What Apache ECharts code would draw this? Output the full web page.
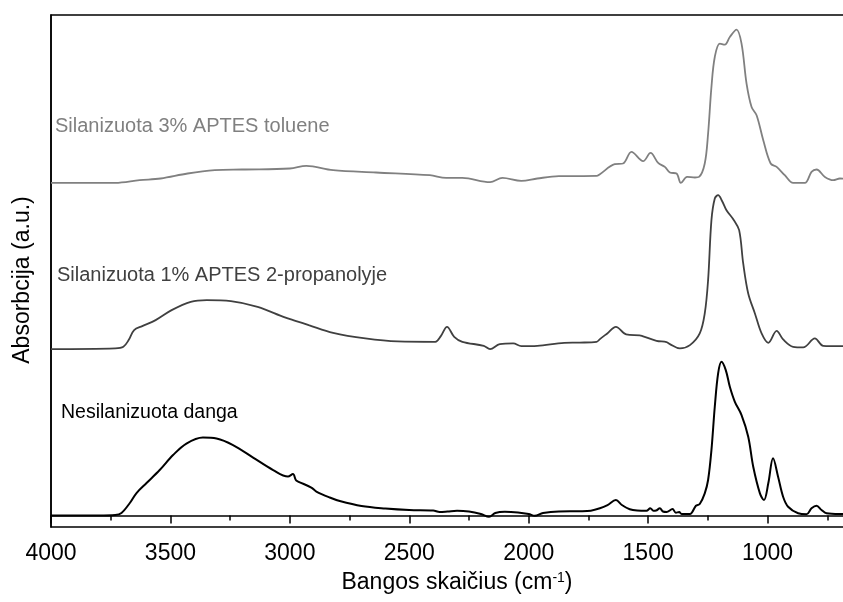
<!DOCTYPE html>
<html>
<head>
<meta charset="utf-8">
<title>FTIR spektrai</title>
<script src="https://cdn.jsdelivr.net/npm/echarts@6/dist/echarts.min.js"></script>
<style>
  html, body { margin: 0; padding: 0; background: #fff; }
  #chart { width: 843px; height: 602px; }
</style>
</head>
<body>
<div id="chart"></div>
<script>
// Wavenumbers (cm-1) and absorbance (a.u., relative to each spectrum's own baseline)
const wnBare = [4000, 3800, 3731, 3705, 3670, 3642, 3600, 3545, 3489, 3433, 3364, 3307, 3238, 3154, 3070, 3008, 2987, 2975, 2966, 2910, 2889, 2833, 2791, 2700, 2600, 2500, 2400, 2373, 2340, 2300, 2250, 2200, 2166, 2140, 2100, 2045, 2000, 1975, 1940, 1874, 1786, 1740, 1702, 1670, 1635, 1610, 1577, 1546, 1507, 1491, 1478, 1467, 1451, 1438, 1423, 1398, 1384, 1370, 1360, 1325, 1300, 1284, 1263, 1249, 1235, 1221, 1207, 1193, 1175, 1158, 1137, 1109, 1081, 1060, 1032, 1015, 997, 977, 956, 935, 914, 872, 837, 816, 795, 774, 753, 700, 600];
const absBare = [0, 0, 0.005, 0.025, 0.125, 0.225, 0.325, 0.455, 0.605, 0.72, 0.78, 0.77, 0.705, 0.58, 0.455, 0.39, 0.415, 0.355, 0.34, 0.28, 0.24, 0.18, 0.145, 0.095, 0.07, 0.055, 0.05, 0.035, 0.04, 0.048, 0.04, 0.015, -0.013, 0.025, 0.038, 0.031, 0.015, -0.003, 0.025, 0.041, 0.043, 0.048, 0.072, 0.105, 0.155, 0.105, 0.062, 0.05, 0.048, 0.072, 0.048, 0.05, 0.072, 0.04, 0.035, 0.065, 0.028, 0.035, 0.015, 0.015, 0.098, 0.115, 0.222, 0.355, 0.655, 1.088, 1.422, 1.538, 1.455, 1.288, 1.138, 1.005, 0.788, 0.488, 0.222, 0.155, 0.322, 0.572, 0.388, 0.188, 0.088, 0.022, 0.012, 0.072, 0.098, 0.055, 0.022, 0.015, 0.015];

const wnIpa = [4000, 3731, 3697, 3675, 3652, 3618, 3562, 3495, 3415, 3348, 3247, 3135, 3021, 2977, 2921, 2819, 2684, 2549, 2391, 2368, 2342, 2312, 2278, 2188, 2162, 2121, 2065, 2031, 1964, 1851, 1786, 1716, 1702, 1671, 1635, 1592, 1535, 1524, 1465, 1423, 1409, 1367, 1325, 1284, 1263, 1249, 1235, 1221, 1207, 1190, 1172, 1141, 1119, 1102, 1081, 1053, 1025, 997, 962, 935, 893, 851, 802, 767, 700, 600];
const absIpa = [0, 0.007, 0.023, 0.09, 0.19, 0.23, 0.29, 0.39, 0.473, 0.49, 0.48, 0.423, 0.317, 0.283, 0.24, 0.163, 0.107, 0.077, 0.073, 0.13, 0.223, 0.123, 0.073, 0.033, 0, 0.05, 0.057, 0.03, 0.033, 0.063, 0.065, 0.073, 0.1, 0.157, 0.223, 0.147, 0.137, 0.13, 0.083, 0.07, 0.05, 0.007, 0.04, 0.157, 0.357, 0.69, 1.29, 1.507, 1.54, 1.48, 1.39, 1.29, 1.19, 0.857, 0.557, 0.357, 0.157, 0.063, 0.183, 0.097, 0.023, 0.017, 0.107, 0.033, 0.03, 0.03];

const wnTol = [4000, 3731, 3629, 3541, 3428, 3314, 3201, 3000, 2931, 2819, 2639, 2414, 2346, 2278, 2162, 2110, 2031, 1964, 1874, 1716, 1702, 1640, 1605, 1570, 1521, 1490, 1458, 1430, 1409, 1381, 1363, 1337, 1304, 1287, 1263, 1249, 1235, 1221, 1200, 1179, 1158, 1130, 1109, 1088, 1067, 1046, 1018, 987, 962, 928, 893, 844, 816, 795, 760, 725, 697, 600];
const absTol = [0, 0, 0.027, 0.044, 0.094, 0.127, 0.134, 0.144, 0.17, 0.127, 0.104, 0.077, 0.05, 0.05, 0.007, 0.05, 0.02, 0.044, 0.067, 0.07, 0.087, 0.187, 0.194, 0.31, 0.217, 0.3, 0.2, 0.16, 0.104, 0.094, 0, 0.06, 0.054, 0.06, 0.194, 0.494, 0.96, 1.26, 1.394, 1.384, 1.46, 1.534, 1.394, 0.994, 0.76, 0.677, 0.427, 0.194, 0.16, 0.077, 0, 0, 0.11, 0.134, 0.06, 0.027, 0.044, 0.027];

// Vertical offsets used to stack the spectra
const seriesNames = ['Nesilanizuota danga', 'Silanizuota 1% APTES 2-propanolyje', 'Silanizuota 3% APTES toluene'];
const offsets = [0, 1.665, 3.328];
const xTicks = [4000, 3500, 3000, 2500, 2000, 1500, 1000];

const FONT = '"Liberation Sans", Arial, sans-serif';
const colors = ['#000000', '#404040', '#808080'];

function pairs(wn, ab, off) {
  return wn.map((w, i) => [w, ab[i] + off]);
}

const chart = echarts.init(document.getElementById('chart'), null, { renderer: 'canvas' });

chart.setOption({
  animation: false,
  backgroundColor: '#fff',
  grid: {
    left: 51, top: 15, width: 836, height: 512,
    outerBoundsMode: 'none', containLabel: false,
    show: true, borderColor: '#000', borderWidth: 1.5, backgroundColor: 'transparent'
  },
  xAxis: {
    type: 'value', inverse: true, min: 500, max: 4000, interval: 500,
    name: 'Bangos skaičius (cm{sup|-1})',
    nameLocation: 'middle', nameGap: 44,
    nameTextStyle: {
      fontFamily: FONT, fontSize: 23, color: '#000', padding: [0, 24, 0, 0],
      rich: { sup: { fontFamily: FONT, fontSize: 14, color: '#000', verticalAlign: 'top', padding: [0, 0, 10, 0] } }
    },
    axisLine: { show: true, lineStyle: { color: '#000', width: 1.5 } },
    axisTick: { show: true, length: 8, inside: false, lineStyle: { color: '#000', width: 1.5 } },
    minorTick: { show: true, splitNumber: 2, length: 5, lineStyle: { color: '#000', width: 1.5 } },
    axisLabel: {
      fontFamily: FONT, fontSize: 23, color: '#000', margin: 15,
      formatter: v => (xTicks.indexOf(v) >= 0 ? String(v) : '')
    },
    splitLine: { show: false }
  },
  yAxis: {
    type: 'value', min: -0.115, max: 5.008,
    name: 'Absorbcija (a.u.)',
    nameLocation: 'middle', nameGap: 17, nameRotate: 90,
    nameTextStyle: { fontFamily: FONT, fontSize: 23, color: '#000', padding: [0, 18, 0, 0] },
    axisLine: { show: true, lineStyle: { color: '#000', width: 1.5 } },
    axisTick: { show: false },
    axisLabel: { show: false },
    splitLine: { show: false }
  },
  series: [
    { name: seriesNames[0], type: 'line', data: pairs(wnBare, absBare, offsets[0]) },
    { name: seriesNames[1], type: 'line', data: pairs(wnIpa, absIpa, offsets[1]) },
    { name: seriesNames[2], type: 'line', data: pairs(wnTol, absTol, offsets[2]) }
  ].map((s, i) => Object.assign(s, {
    showSymbol: false, smooth: 0.35, clip: true,
    lineStyle: { color: colors[i], width: i === 0 ? 2 : 1.8 },
    z: 3 - i
  })),
  graphic: [
    { type: 'text', left: 61, top: 403, style: { text: seriesNames[0], fill: colors[0], font: '19.5px ' + FONT } },
    { type: 'text', left: 57, top: 265, style: { text: seriesNames[1], fill: colors[1], font: '20px ' + FONT } },
    { type: 'text', left: 55, top: 116, style: { text: seriesNames[2], fill: colors[2], font: '20px ' + FONT } }
  ]
});
</script>
</body>
</html>
